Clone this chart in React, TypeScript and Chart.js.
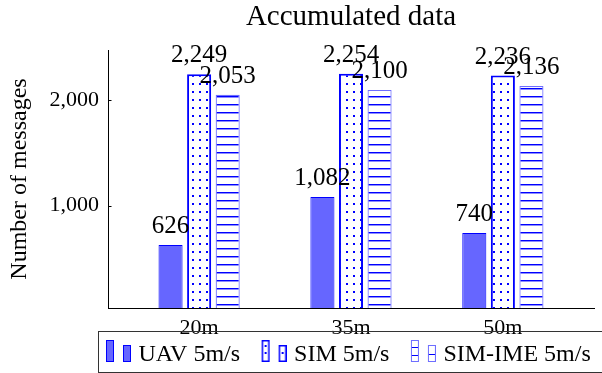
import React, { useEffect, useRef } from 'react';
import { Chart, registerables } from 'chart.js';

Chart.register(...registerables);

const chartTitle = 'Accumulated data';
const yAxisTitle = 'Number of messages';
const categories = ['20m', '35m', '50m'];
const categoryPositions = [0, 1, 2];
const seriesNames = ['UAV 5m/s', 'SIM 5m/s', 'SIM-IME 5m/s'];
const uavValues = [626, 1082, 740];
const simValues = [2249, 2254, 2236];
const simImeValues = [2053, 2100, 2136];
const yTickValues = [1000, 2000];

const FONT = "'Liberation Serif', 'Times New Roman', serif";
const BLUE = 'rgb(0,0,255)';
const UAV_FILL = 'rgb(102,102,255)';
const IME_BORDER = 'rgb(110,110,255)';

function makeDotPattern(ctx: CanvasRenderingContext2D) {
  const c = document.createElement('canvas');
  c.width = 7; c.height = 8;
  const g = c.getContext('2d')!;
  g.fillStyle = '#fff'; g.fillRect(0, 0, 7, 8);
  g.fillStyle = BLUE; g.fillRect(3, 3, 2, 2);
  return ctx.createPattern(c, 'repeat');
}

function makeLinePattern(ctx: CanvasRenderingContext2D) {
  const c = document.createElement('canvas');
  c.width = 8; c.height = 8;
  const g = c.getContext('2d')!;
  g.fillStyle = '#fff'; g.fillRect(0, 0, 8, 8);
  g.fillStyle = BLUE; g.fillRect(0, 0, 8, 1);
  g.globalAlpha = 0.45; g.fillRect(0, 1, 8, 1);
  return ctx.createPattern(c, 'repeat');
}

const ICON_W = 47;
function makeIcon(kind: string) {
  const c = document.createElement('canvas');
  c.width = ICON_W; c.height = 32;
  const g = c.getContext('2d')!;
  const x0 = ICON_W - 25;
  const bars = [[x0, 1, 8, 22], [x0 + 17, 6, 8, 17]];
  bars.forEach(([x, y, w, h], bi) => {
    if (kind === 'uav') {
      g.fillStyle = UAV_FILL; g.fillRect(x, y, w, h);
      g.strokeStyle = BLUE; g.lineWidth = 1; g.strokeRect(x + 0.5, y + 0.5, w - 1, h - 1);
    } else if (kind === 'sim') {
      g.fillStyle = '#fff'; g.fillRect(x, y, w, h);
      g.strokeStyle = BLUE; g.lineWidth = 1.5; g.strokeRect(x + 0.75, y + 0.75, w - 1.5, h - 1.5);
      g.fillStyle = BLUE;
      const dots = bi === 0 ? [5, 12] : [7];
      dots.forEach((d) => g.fillRect(x + 3, y + d, 2, 2));
    } else {
      g.fillStyle = '#fff'; g.fillRect(x, y, w, h);
      g.strokeStyle = IME_BORDER; g.lineWidth = 1; g.strokeRect(x + 0.5, y + 0.5, w - 1, h - 1);
      g.fillStyle = BLUE;
      const lines = bi === 0 ? [7, 15] : [9];
      lines.forEach((d) => g.fillRect(x + 1, y + d, w - 2, 1));
    }
  });
  return c;
}

const LEGEND_PAD = 4;

const layoutPlugin = {
  id: 'legendPlace',
  afterLayout(chart: any) {
    const lg = chart.legend;
    if (!lg || !lg.lineWidths) return;
    const lw = lg.lineWidths[0];
    const cur = (lg.left + LEGEND_PAD + lg.right - lw) / 2;
    let want = 347 - (lw + 11) / 2;
    want = Math.round(want - 0.5) + 0.5;
    const dx = want - cur;
    lg.left += dx; lg.right += dx;
    const newTop = 339;
    const dy = newTop - lg.top;
    lg.top += dy; lg.bottom += dy;
  },
  afterDraw(chart: any) {
    const ctx = chart.ctx;
    ctx.save();
    ctx.strokeStyle = '#333';
    ctx.lineWidth = 1;
    ctx.strokeRect(98.5, 331.5, 520, 41);
    const ys = chart.scales.y;
    ctx.strokeStyle = '#000';
    ctx.beginPath();
    yTickValues.forEach((v) => {
      const py = Math.round(ys.getPixelForValue(v)) + 0.5;
      ctx.moveTo(chart.chartArea.left, py);
      ctx.lineTo(chart.chartArea.left + 3.5, py);
    });
    ctx.stroke();
    ctx.restore();
  },
};

const labelPlugin = {
  id: 'barLabels',
  afterDatasetsDraw(chart: any) {
    const ctx = chart.ctx;
    ctx.save();
    ctx.font = `25px ${FONT}`;
    ctx.fillStyle = '#000';
    ctx.textAlign = 'center';
    ctx.textBaseline = 'alphabetic';
    chart.data.datasets.forEach((ds: any, di: number) => {
      const meta = chart.getDatasetMeta(di);
      meta.data.forEach((el: any, i: number) => {
        const v = ds.data[i].y;
        ctx.fillText(Number(v).toLocaleString('en-US'), el.x, el.y - 12);
      });
    });
    ctx.restore();
  },
};

export default function App() {
  const ref = useRef<HTMLCanvasElement>(null);
  useEffect(() => {
    const canvas = ref.current!;
    const ctx = canvas.getContext('2d')!;
    const icons = [makeIcon('uav'), makeIcon('sim'), makeIcon('ime')];
    const toPts = (vals: number[]) => categoryPositions.map((x, i) => ({ x, y: vals[i] }));
    const chart = new Chart(ctx, {
      type: 'bar',
      data: {
        datasets: [
          { label: seriesNames[0], data: toPts(uavValues), backgroundColor: UAV_FILL, borderColor: BLUE, borderWidth: 1, borderSkipped: false },
          { label: seriesNames[1], data: toPts(simValues), backgroundColor: makeDotPattern(ctx) as any, borderColor: BLUE, borderWidth: 2, borderSkipped: false },
          { label: seriesNames[2], data: toPts(simImeValues), backgroundColor: makeLinePattern(ctx) as any, borderColor: IME_BORDER, borderWidth: 1.2, borderSkipped: false },
        ] as any,
      },
      options: {
        animation: false,
        responsive: false,
        maintainAspectRatio: false,
        devicePixelRatio: 1,
        datasets: { bar: { categoryPercentage: 0.5644, barPercentage: 0.842 } } as any,
        layout: { padding: { left: 0, right: 8, top: 0, bottom: 0 } },
        scales: {
          x: {
            type: 'linear',
            offset: false,
            min: -0.6,
            max: 2.6,
            grid: { display: false, drawTicks: false, tickLength: 0, offset: false },
            border: { display: true, color: '#000', width: 1 },
            afterBuildTicks: (s: any) => { s.ticks = categoryPositions.map((v) => ({ value: v })); },
            afterFit: (s: any) => { s.height = 27; },
            ticks: {
              callback: (v: any) => categories[Number(v)] ?? '',
              font: { family: FONT, size: 22 },
              color: '#000',
              padding: 7,
              maxRotation: 0,
              autoSkip: false,
            },
          },
          y: {
            type: 'linear',
            min: 28,
            max: 2479,
            grid: { display: false, drawTicks: false, tickLength: 0 },
            border: { display: true, color: '#000', width: 1 },
            afterBuildTicks: (s: any) => { s.ticks = yTickValues.map((v) => ({ value: v })); },
            afterFit: (s: any) => { s.width = 108; },
            ticks: {
              callback: (v: any) => Number(v).toLocaleString('en-US'),
              font: { family: FONT, size: 22 },
              color: '#000',
              padding: 9,
            },
            title: {
              display: true,
              text: yAxisTitle,
              font: { family: FONT, size: 24 },
              color: '#000',
              padding: { top: 5, bottom: 0 },
            },
          },
        } as any,
        plugins: {
          title: {
            display: true,
            text: chartTitle,
            fullSize: false,
            font: { family: FONT, size: 29, weight: 'normal' },
            color: '#000',
            padding: { top: 0, bottom: 15.2 },
          },
          legend: {
            display: true,
            position: 'bottom',
            fullSize: true,
            align: 'center',
            labels: {
              usePointStyle: true,
              pointStyleWidth: ICON_W - 9,
              padding: LEGEND_PAD,
              font: { family: FONT, size: 24 },
              color: '#000',
              generateLabels: (ch: any) =>
                ch.data.datasets.map((ds: any, i: number) => ({
                  text: ds.label,
                  pointStyle: icons[i],
                  datasetIndex: i,
                  hidden: false,
                  fillStyle: 'transparent',
                  strokeStyle: 'transparent',
                  lineWidth: 0,
                  fontColor: '#000',
                })),
            },
          },
          tooltip: { enabled: false },
        } as any,
      },
      plugins: [layoutPlugin, labelPlugin],
    });
    return () => chart.destroy();
  }, []);
  return (
    <div style={{ position: 'absolute', left: 0, top: 0, width: 602, height: 373 }}>
      <canvas ref={ref} width={602} height={373} style={{ display: 'block', width: 602, height: 373 }} />
    </div>
  );
}
